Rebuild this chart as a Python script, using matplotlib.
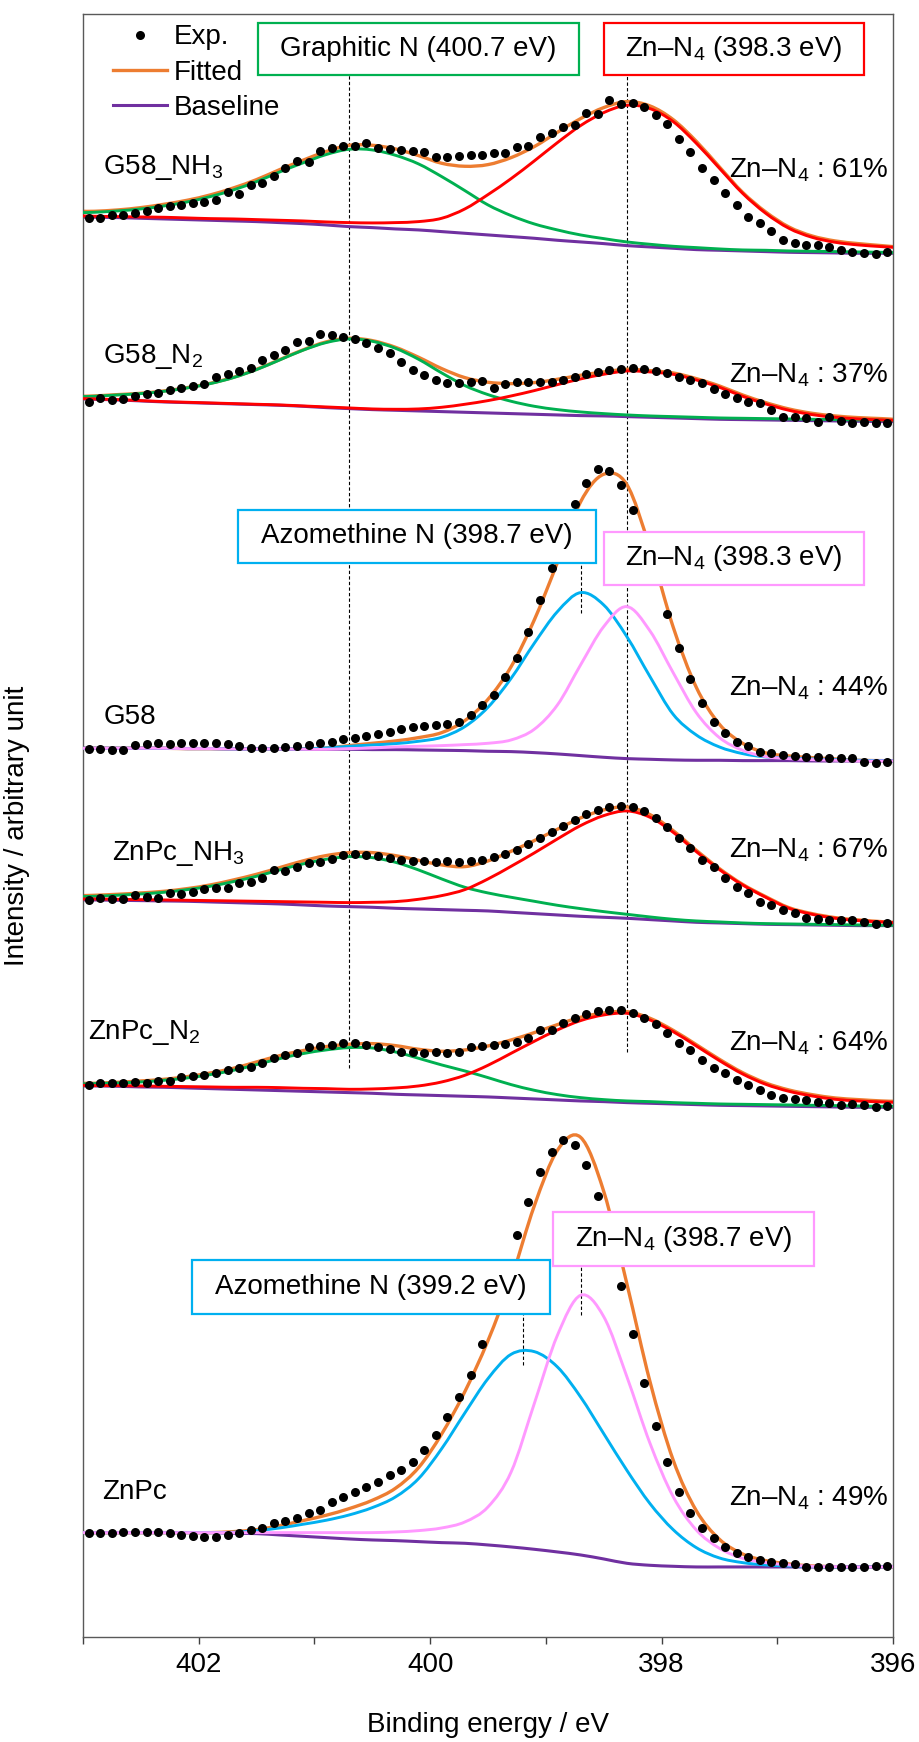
import numpy as np
import matplotlib.pyplot as plt
from matplotlib.lines import Line2D
from matplotlib.patches import Rectangle, PathPatch
from matplotlib.path import Path

plt.rcParams['font.family'] = ['Liberation Sans', 'DejaVu Sans']
plt.rcParams['mathtext.fontset'] = 'custom'
plt.rcParams['mathtext.rm'] = 'Liberation Sans'
plt.rcParams['mathtext.it'] = 'Liberation Sans:italic'
plt.rcParams['mathtext.bf'] = 'Liberation Sans:bold'

FS = 20

# binding energy grids (eV): measured points and fitted envelope
be_exp = 402.95 - 0.1 * np.arange(70)
be_fit = np.r_[403.0, np.arange(402.9, 396.0, -0.2), 396.0]

# ---- G58_NH3 ----
g58nh3_exp = [105, 105, 115, 115, 120, 127, 135, 142, 145, 152,
              155, 160, 185, 177, 205, 210, 232, 255, 278, 275,
              308, 315, 322, 323, 330, 317, 312, 310, 308, 303,
              288, 288, 292, 295, 295, 300, 302, 320, 323, 350,
              360, 380, 385, 422, 417, 460, 448, 450, 440, 415,
              388, 342, 305, 255, 220, 180, 145, 110, 92, 68,
              40, 30, 25, 25, 20, 10, 5, 0, -2, 5]
g58nh3_base = [108, 108, 107, 105, 103, 101, 99, 97, 95, 92,
               89, 85, 80, 77, 73, 70, 65, 60, 55, 50,
               45, 39, 34, 29, 23, 19, 15, 11, 9, 7,
               5, 3, 2, 1, 0, 0, 0]
g58nh3_graphitic = [122, 123, 127, 133, 142, 154, 170, 190, 215, 244,
                    271, 296, 312, 310, 294, 268, 230, 188, 145, 113,
                    88, 70, 55, 44, 34, 27, 21, 17, 13, 10,
                    9, 7, 6, 5, 4, 3, 2]
g58nh3_znn4 = [112, 111, 110, 109, 108, 106, 104, 103, 101, 99,
               97, 94, 92, 91, 92, 95, 105, 133, 176, 224,
               277, 332, 383, 422, 444, 434, 395, 330, 255, 180,
               120, 75, 48, 33, 25, 20, 18]

# ---- G58_N2 ----
g58n2_exp = [60, 70, 65, 67, 77, 83, 87, 95, 100, 107,
             113, 135, 143, 153, 160, 185, 200, 215, 240, 243,
             263, 260, 255, 247, 235, 220, 207, 180, 155, 140,
             125, 115, 115, 120, 122, 100, 113, 120, 120, 120,
             120, 125, 133, 143, 150, 155, 157, 160, 157, 153,
             147, 133, 125, 115, 97, 83, 70, 60, 55, 35,
             15, 13, 10, 0, 13, 3, -3, 0, -3, -3]
g58n2_base = [68, 67, 65, 62, 59, 57, 55, 53, 51, 49,
              46, 42, 39, 36, 34, 32, 30, 28, 26, 24,
              22, 20, 18, 17, 15, 13, 11, 9, 7, 6,
              5, 4, 3, 2, 1, 0, 0]
g58n2_graphitic = [75, 76, 80, 84, 91, 101, 114, 132, 156, 185,
                   214, 237, 248, 241, 220, 187, 146, 108, 81, 61,
                   46, 36, 29, 24, 20, 17, 15, 13, 11, 10,
                   9, 8, 7, 6, 5, 4, 3]
g58n2_znn4 = [69, 68, 66, 63, 60, 58, 56, 54, 52, 50,
              47, 44, 41, 38, 37, 38, 43, 52, 63, 77,
              93, 111, 128, 142, 152, 149, 142, 125, 103, 76,
              53, 34, 21, 13, 8, 5, 4]

# ---- G58 ----
g58_exp = [35, 35, 33, 33, 48, 51, 53, 51, 53, 53,
           53, 53, 51, 45, 40, 38, 38, 43, 45, 48,
           53, 58, 65, 68, 75, 81, 88, 95, 103, 105,
           108, 111, 118, 138, 168, 198, 251, 308, 388, 483,
           578, 673, 771, 835, 875, 871, 828, 753, 653, 543,
           441, 338, 245, 175, 118, 83, 58, 45, 28, 23,
           18, 15, 13, 13, 8, 8, 8, -2, -5, -2]
g58_base = [38, 38, 38, 38, 38, 37, 37, 36, 36, 36,
            35, 35, 35, 34, 34, 33, 32, 31, 29, 28,
            25, 21, 16, 11, 7, 5, 3, 2, 2, 1,
            1, 1, 0, 0, 0, 0, 0]
g58_azomethine = [38, 38, 38, 38, 38, 37, 37, 36, 36, 36,
                  36, 39, 44, 48, 52, 59, 71, 103, 161, 248,
                  353, 448, 505, 468, 373, 253, 140, 78, 42, 22,
                  12, 9, 6, 4, 2, 1, 0]
g58_znn4 = [38, 38, 38, 38, 38, 37, 37, 36, 36, 36,
            35, 35, 37, 39, 42, 44, 46, 49, 53, 63,
            95, 168, 288, 403, 463, 390, 265, 145, 70, 32,
            13, 7, 4, 2, 0, 0, 0]

# ---- ZnPc_NH3 ----
znpcnh3_exp = [77, 82, 79, 80, 92, 87, 82, 97, 94, 102,
               109, 114, 112, 129, 132, 142, 167, 164, 177, 187,
               192, 199, 212, 214, 212, 208, 203, 198, 195, 193,
               192, 193, 192, 195, 198, 205, 215, 228, 245, 262,
               280, 298, 318, 335, 348, 355, 360, 357, 345, 322,
               295, 262, 232, 197, 177, 142, 117, 97, 72, 62,
               47, 37, 22, 19, 17, 17, 17, 12, 4, 7]
znpcnh3_base = [77, 77, 76, 75, 74, 73, 71, 69, 67, 65,
                62, 59, 57, 55, 52, 50, 48, 46, 44, 40,
                36, 32, 28, 25, 22, 18, 14, 10, 8, 6,
                4, 3, 2, 1, 0, 0, 0]
znpcnh3_graphitic = [87, 88, 91, 95, 100, 108, 118, 132, 148, 167,
                     185, 199, 207, 204, 190, 167, 140, 115, 98, 85,
                     73, 61, 51, 42, 34, 26, 19, 14, 11, 8,
                     6, 5, 4, 3, 2, 1, 1]
znpcnh3_znn4 = [80, 80, 79, 78, 77, 76, 75, 74, 73, 72,
                71, 70, 69, 70, 72, 79, 90, 108, 140, 178,
                218, 260, 300, 330, 344, 325, 280, 222, 168, 122,
                85, 52, 34, 22, 15, 11, 9]

# ---- ZnPc_N2 ----
znpcn2_exp = [67, 72, 72, 72, 77, 74, 79, 80, 90, 94,
              97, 102, 112, 117, 122, 132, 147, 157, 162, 180,
              184, 187, 192, 192, 187, 182, 174, 167, 167, 164,
              165, 162, 165, 182, 184, 187, 190, 197, 207, 232,
              232, 252, 267, 280, 289, 292, 292, 284, 267, 250,
              222, 192, 172, 142, 117, 102, 82, 67, 52, 37,
              27, 24, 22, 17, 12, 7, 10, 7, 0, 4]
znpcn2_base = [64, 64, 63, 61, 60, 58, 56, 54, 52, 50,
               48, 46, 44, 42, 39, 37, 35, 33, 31, 28,
               25, 22, 19, 17, 14, 12, 10, 8, 6, 5,
               4, 3, 2, 1, 0, 0, 0]
znpcn2_graphitic = [70, 71, 73, 76, 81, 88, 98, 111, 128, 146,
                    161, 172, 179, 178, 166, 147, 127, 109, 89, 68,
                    51, 38, 29, 23, 19, 17, 14, 12, 10, 9,
                    8, 7, 6, 5, 4, 3, 3]
znpcn2_znn4 = [66, 65, 65, 64, 63, 62, 61, 60, 60, 59,
               57, 56, 54, 55, 58, 64, 76, 96, 126, 162,
               198, 232, 260, 277, 282, 262, 227, 184, 140, 100,
               69, 48, 34, 24, 19, 16, 15]

# ---- ZnPc ----
znpc_exp = [103, 103, 103, 106, 106, 106, 106, 103, 96, 93,
            91, 91, 96, 101, 111, 116, 131, 138, 146, 161,
            171, 196, 211, 226, 241, 256, 276, 291, 316, 351,
            396, 451, 509, 576, 668, 791, 901, 996, 1096, 1186,
            1246, 1281, 1266, 1206, 1113, 971, 843, 699, 553, 424,
            316, 226, 163, 116, 86, 59, 41, 29, 21, 16,
            11, 8, 1, -1, -1, -1, 1, 1, 3, 3]
znpc_base = [103, 103, 103, 103, 103, 103, 103, 101, 100, 96,
             92, 88, 84, 81, 79, 76, 73, 71, 66, 60,
             53, 45, 36, 24, 11, 5, 2, 0, 0, 0,
             0, 0, 0, 0, 0, 0, 1]
znpc_azomethine = [103, 103, 103, 103, 103, 103, 103, 104, 109, 117,
                   128, 140, 156, 178, 210, 265, 355, 462, 565, 638,
                   646, 600, 510, 400, 290, 190, 112, 58, 27, 13,
                   6, 3, 1, 0, 0, 0, 1]
znpc_znn4 = [103, 103, 103, 103, 103, 103, 103, 103, 103, 103,
             103, 103, 103, 103, 105, 109, 117, 135, 180, 285,
             490, 695, 815, 751, 571, 371, 211, 111, 56, 26,
             13, 6, 2, 1, 0, 0, 1]

samples = ['G58_NH$_3$', 'G58_N$_2$', 'G58', 'ZnPc_NH$_3$', 'ZnPc_N$_2$', 'ZnPc']
znn4_pct = [61, 37, 44, 67, 64, 49]

# peak positions (eV) quoted in the labels
graphitic_be = 400.7
znn4_be = 398.3
g58_azo_be = 398.7
znpc_azo_be = 399.2
znpc_znn4_be = 398.7

c_fit = '#ED7D31'
c_base = '#7030A0'
c_green = '#00B050'
c_red = '#FF0000'
c_blue = '#00B0F0'
c_pink = '#FF99FF'

spectra = [
    (g58nh3_exp, g58nh3_base, g58nh3_graphitic, g58nh3_znn4, c_green, c_red),
    (g58n2_exp, g58n2_base, g58n2_graphitic, g58n2_znn4, c_green, c_red),
    (g58_exp, g58_base, g58_azomethine, g58_znn4, c_blue, c_pink),
    (znpcnh3_exp, znpcnh3_base, znpcnh3_graphitic, znpcnh3_znn4, c_green, c_red),
    (znpcn2_exp, znpcn2_base, znpcn2_graphitic, znpcn2_znn4, c_green, c_red),
    (znpc_exp, znpc_base, znpc_azomethine, znpc_znn4, c_blue, c_pink),
]
offsets = [4151, 3646, 2628, 2134, 1589, 210]


def smooth_line(ax, x, y, color, lw, zorder):
    """Smoothed line through the points (Catmull-Rom drawn as Bezier)."""
    pts = np.column_stack([x, y])
    verts = [pts[0]]
    codes = [Path.MOVETO]
    n = len(pts)
    for i in range(n - 1):
        p0 = pts[max(i - 1, 0)]
        p1, p2 = pts[i], pts[i + 1]
        p3 = pts[min(i + 2, n - 1)]
        verts += [p1 + (p2 - p0) / 6, p2 - (p3 - p1) / 6, p2]
        codes += [Path.CURVE4] * 3
    ax.add_patch(PathPatch(Path(verts, codes), fill=False, edgecolor=color,
                           lw=lw, zorder=zorder, capstyle='round',
                           joinstyle='round'))


fig = plt.figure(figsize=(9.19, 17.42), dpi=100)
ax = fig.add_axes([0.0903, 0.0603, 0.8814, 0.9317])

for (exp, base, c1, c2, col1, col2), off in zip(spectra, offsets):
    base = np.array(base, float)
    c1 = np.array(c1, float)
    c2 = np.array(c2, float)
    fitted = c1 + c2 - base
    smooth_line(ax, be_fit, fitted + off, c_fit, 2.4, 2)
    smooth_line(ax, be_fit, base + off, c_base, 2.2, 2.5)
    smooth_line(ax, be_fit, c1 + off, col1, 2.1, 3)
    smooth_line(ax, be_fit, c2 + off, col2, 2.1, 3.5)
    ax.plot(be_exp, np.array(exp) + off, 'o', color='black',
            ms=6.5, mec='none', zorder=5)

handles = [Line2D([], [], ls='none', marker='o', color='black', ms=6.5, mec='none'),
           Line2D([], [], color=c_fit, lw=2.4),
           Line2D([], [], color=c_base, lw=2.2)]

ax.set_xlim(403, 396)
ax.set_ylim(0, 4869)
ax.set_yticks([])
ax.set_xticks([402, 400, 398, 396])
ax.set_xticks([403, 401, 399, 397], minor=True)
ax.tick_params(axis='x', which='both', direction='out', length=5, width=1,
               color='#404040', labelsize=FS, pad=6)
for sp in ax.spines.values():
    sp.set_color('#595959')
    sp.set_linewidth(1.0)

ax.set_xlabel('Binding energy / eV', fontsize=FS, labelpad=24)
ax.set_ylabel('Intensity / arbitrary unit', fontsize=FS)
ax.yaxis.set_label_coords(-0.066, 0.5)

ax.legend(handles, ['Exp.', 'Fitted', 'Baseline'], loc='upper left',
          bbox_to_anchor=(0.037, 0.9935), frameon=False, fontsize=FS,
          handlelength=1.95, handletextpad=0.25, labelspacing=0.33,
          borderpad=0, borderaxespad=0)

# sample names (left) and Zn-N4 fractions (right)
name_pos = [(0.0247, 0.9051), (0.0247, 0.7887), (0.026, 0.5669),
            (0.0358, 0.4825), (0.0062, 0.3722), (0.0235, 0.0893)]
pct_y = [0.9039, 0.7776, 0.5847, 0.4849, 0.3660, 0.0856]
for name, (nx, ny), pct, py in zip(samples, name_pos, znn4_pct, pct_y):
    ax.text(nx, ny, name, transform=ax.transAxes, fontsize=FS,
            ha='left', va='center')
    ax.text(0.9938, py, f'Zn\u2013N$_4$ : {pct}%', transform=ax.transAxes,
            fontsize=FS, ha='right', va='center')

# peak labels in boxes
boxes = [
    (f'Graphitic N ({graphitic_be} eV)', c_green, 0.2160, 0.9624, 0.3963, 0.0320),
    (f'Zn\u2013N$_4$ ({znn4_be} eV)', c_red, 0.6432, 0.9624, 0.3210, 0.0320),
    (f'Azomethine N ({g58_azo_be} eV)', c_blue, 0.1914, 0.6617, 0.4420, 0.0327),
    (f'Zn\u2013N$_4$ ({znn4_be} eV)', c_pink, 0.6432, 0.6482, 0.3210, 0.0327),
    (f'Azomethine N ({znpc_azo_be} eV)', c_blue, 0.1346, 0.1990, 0.4420, 0.0333),
    (f'Zn\u2013N$_4$ ({znpc_znn4_be} eV)', c_pink, 0.5802, 0.2286, 0.3222, 0.0333),
]
for txt, col, x0, y0, w, h in boxes:
    ax.add_patch(Rectangle((x0, y0), w, h, transform=ax.transAxes,
                           facecolor='white', edgecolor=col, lw=1.6,
                           zorder=6))
    ax.text(x0 + w / 2, y0 + h / 2, txt, transform=ax.transAxes,
            fontsize=FS, ha='center', va='center', zorder=7)

# dashed markers at the peak positions
dash = dict(color='black', lw=0.8, ls=(0, (3, 2)), zorder=1.5)
ax.axvline(graphitic_be, 0.3506, 0.9624, **dash)
ax.axvline(znn4_be, 0.3604, 0.9630, **dash)
ax.axvline(g58_azo_be, 0.6309, 0.6617, **dash)
ax.axvline(znpc_azo_be, 0.1676, 0.1990, **dash)
ax.axvline(znpc_znn4_be, 0.1984, 0.2286, **dash)

fig.savefig('out.png', dpi=100)
